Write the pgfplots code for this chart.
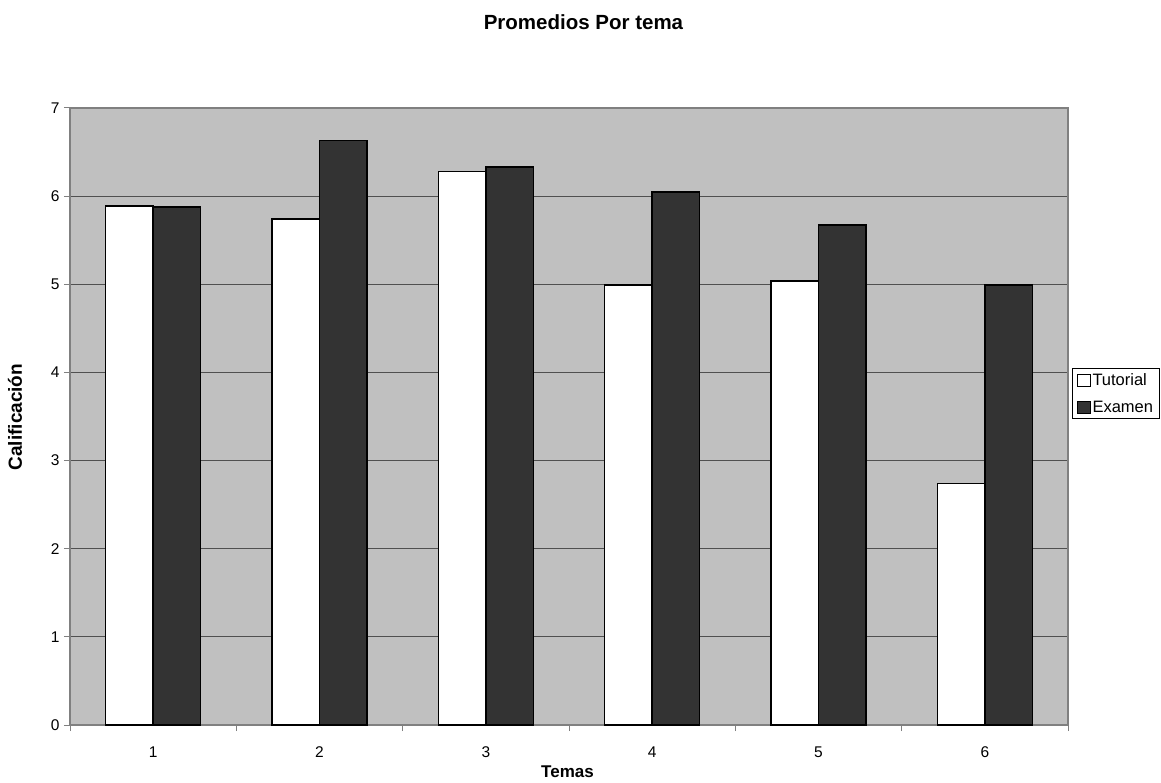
\documentclass[border=0pt]{standalone}
\usepackage{fontspec}
\setmainfont{Liberation Sans}
\usepackage{pgfplots}
\pgfplotsset{compat=1.18}
\definecolor{plotbg}{HTML}{C0C0C0}
\definecolor{examen}{HTML}{333333}
\definecolor{gridc}{HTML}{505050}
\definecolor{axisc}{HTML}{808080}

% Promedios por tema: tutorial vs examen
\pgfplotstableread{
tema tutorial examen
1 5.89 5.88
2 5.74 6.63
3 6.28 6.33
4 4.99 6.05
5 5.04 5.67
6 2.74 4.99
}\promedios

\begin{document}
\begin{tikzpicture}[x=1pt,y=1pt]
\useasboundingbox (0,0) rectangle (1161,782);
\begin{axis}[
  at={(70pt,57pt)}, anchor=south west,
  scale only axis, width=998pt, height=617pt,
  font=\fontsize{15.5}{18}\selectfont,
  /pgf/number format/assume math mode=true,
  ybar=0pt, bar width=47.5pt,
  xmin=0.5, xmax=6.5, ymin=0, ymax=7,
  axis background/.style={fill=plotbg},
  axis line style={axisc, line width=1.2pt},
  tick align=outside,
  xtick pos=bottom, ytick pos=left,
  tick style={axisc, line width=1pt},
  major tick length=6pt,
  ytick={0,1,...,7},
  ymajorgrids,
  y grid style={gridc, line width=1pt},
  xtick={0.5,1.5,...,6.5},
  xticklabels={},
  extra x ticks={1,2,3,4,5,6},
  extra x tick style={major tick length=0pt, grid=none},
  extra x tick labels={1,2,3,4,5,6},
  xticklabel style={yshift=-18pt},
  yticklabel style={xshift=-1pt},
  title={\fontsize{20.5}{24}\selectfont\bfseries Promedios Por tema},
  title style={at={(0.5145,1.1297)}, anchor=center},
  xlabel={\fontsize{17}{20}\selectfont\bfseries Temas},
  xlabel style={at={(0.4985,-0.0762)}, anchor=center},
  ylabel={\fontsize{19}{22}\selectfont\bfseries Calificación},
  ylabel style={at={(-0.0551,0.499)}, anchor=center},
  legend style={at={(1.0042,0.5786)}, anchor=north west, draw=black,
    line width=0.6pt, inner xsep=4pt, inner ysep=3pt, row sep=10pt,
    font=\fontsize{16.5}{19}\selectfont},
  legend cell align=left,
  legend image code/.code={\draw[#1, line width=1pt] (0pt,-6pt) rectangle (13pt,6pt);},
]
\addplot[fill=white, draw=black, line width=1.6pt] table[x=tema, y=tutorial] {\promedios};
\addplot[fill=examen, draw=black, line width=1.6pt] table[x=tema, y=examen] {\promedios};
\legend{Tutorial, Examen}
\end{axis}
\end{tikzpicture}
\end{document}
